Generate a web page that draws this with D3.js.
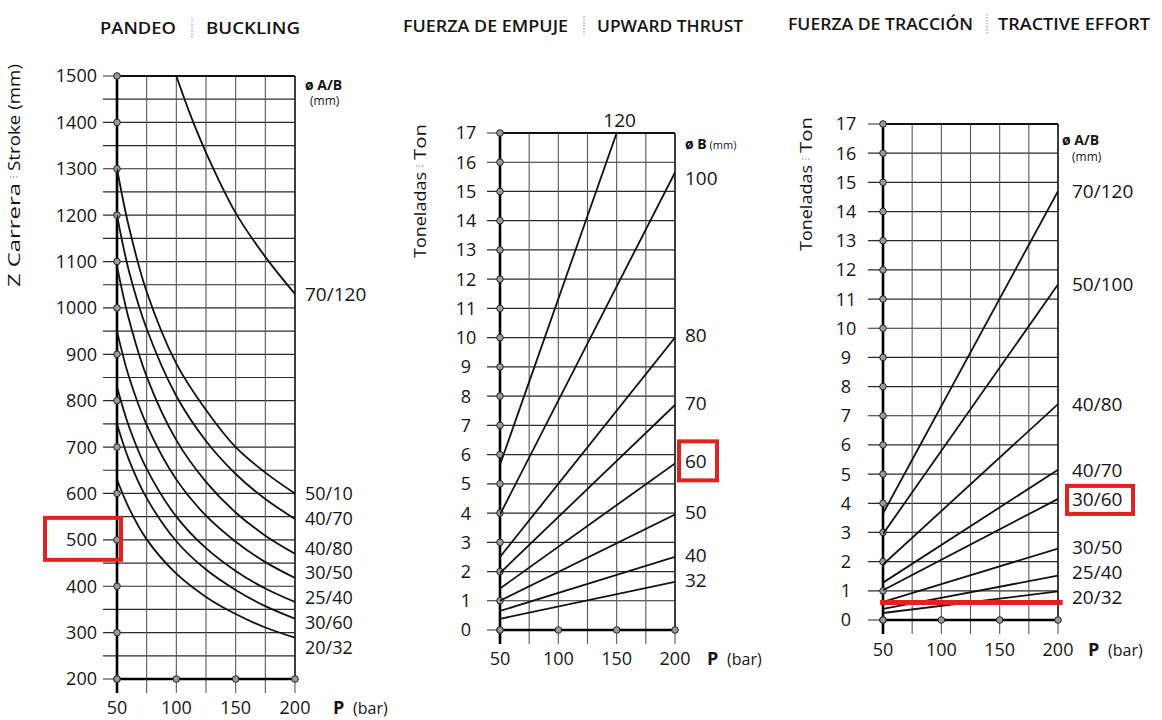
<!DOCTYPE html>
<html>
<head>
<meta charset="utf-8">
<script src="https://cdn.jsdelivr.net/npm/d3@7"></script>
<style>
  body { margin: 0; background: #fff; }
  svg text { font-family: "Open Sans", "Noto Sans", sans-serif; fill: #151515; }
</style>
</head>
<body>
<svg id="chart" width="1162" height="720"></svg>
<script>
// ---- shared pressure axis (bar) ----
const pressureTicks = [50, 100, 150, 200];
const pressureGrid = [50, 75, 100, 125, 150, 175, 200];

// ---- Buckling: admissible stroke (mm) against pressure ----
const strokeTicks = [200, 300, 400, 500, 600, 700, 800, 900, 1000, 1100, 1200, 1300, 1400, 1500];
const strokeP = [50, 60, 75, 100, 125, 150, 175, 200];
const stroke50_10 = [1300, 1175, 1035, 880, 780, 700, 645, 600];
const stroke40_70 = [1200, 1080, 955, 810, 713, 642, 588, 545];
const stroke40_80 = [1090, 976, 852, 715, 625, 559, 509, 470];
const stroke30_50 = [950, 852, 748, 630, 552, 496, 452, 418];
const stroke25_40 = [830, 745, 653, 550, 482, 433, 395, 366];
const stroke30_60 = [750, 673, 590, 497, 436, 392, 357, 330];
const stroke20_32 = [630, 569, 501, 427, 377, 340, 311, 289];
const stroke70_120P = [100, 112, 125, 150, 175, 200];
const stroke70_120 = [1500, 1415, 1335, 1205, 1110, 1030];
const strokeNames = ["50/10", "40/70", "40/80", "30/50", "25/40", "30/60", "20/32"];

// ---- Upward thrust (t) per bore ----
const tonTicks = [0, 1, 2, 3, 4, 5, 6, 7, 8, 9, 10, 11, 12, 13, 14, 15, 16, 17];
const thrustBores = ["120", "100", "80", "70", "60", "50", "40", "32"];
const thrustAt50 = [5.65, 3.95, 2.5, 1.95, 1.42, 1.0, 0.65, 0.38];
const thrustEndP = [150, 200, 200, 200, 200, 200, 200, 200];
const thrustEnd = [17, 15.65, 10.0, 7.7, 5.7, 3.95, 2.5, 1.65];

// ---- Tractive effort (t) per rod/bore ----
const tractiveRods = ["70/120", "50/100", "40/80", "40/70", "30/60", "30/50", "25/40", "20/32"];
const tractiveAt50 = [3.65, 2.95, 1.9, 1.28, 1.02, 0.62, 0.38, 0.24];
const tractiveAt200 = [14.7, 11.5, 7.4, 5.15, 4.15, 2.45, 1.52, 0.98];

// ---- highlighted items ----
const markedStroke = 500;
const markedBore = "60";
const markedRod = "30/60";
const markedTractive = 0.6;

const RED = "#e3211f";
const LABEL_SIZE = 18;
const LABEL_GAP = 25;
const svg = d3.select("#chart");

function titleText(xLeft, xSep, xRight, y, left, right, wLeft, wRight) {
  svg.append("text").attr("x", xLeft).attr("y", y)
    .attr("font-size", 17).attr("font-weight", 600)
    .attr("textLength", wLeft).attr("lengthAdjust", "spacingAndGlyphs").text(left);
  svg.append("line").attr("x1", xSep).attr("x2", xSep).attr("y1", y - 16).attr("y2", y + 4)
    .attr("stroke", "#888").attr("stroke-width", 1).attr("stroke-dasharray", "1.5,1.5");
  svg.append("text").attr("x", xRight).attr("y", y)
    .attr("font-size", 17).attr("font-weight", 600)
    .attr("textLength", wRight).attr("lengthAdjust", "spacingAndGlyphs").text(right);
}

function verticalTitle(cx, yStart, parts) {
  // parts: [text, length] drawn bottom to top with a dotted divider between them
  let yy = yStart;
  parts.forEach((p, i) => {
    if (i > 0) {
      svg.append("line").attr("x1", cx - 4).attr("x2", cx + 4).attr("y1", yy - 6).attr("y2", yy - 6)
        .attr("stroke", "#888").attr("stroke-dasharray", "1.5,1.5");
      yy -= 12;
    }
    svg.append("text")
      .attr("transform", `translate(${cx + 6},${yy}) rotate(-90)`)
      .attr("font-size", 17).attr("font-weight", 500)
      .attr("textLength", p[1]).attr("lengthAdjust", "spacingAndGlyphs")
      .text(p[0]);
    yy -= p[1];
  });
}

function panel(cfg) {
  const x = d3.scaleLinear().domain([50, 200]).range([cfg.x0, cfg.x1]);
  const y = d3.scaleLinear().domain(cfg.yDomain).range([cfg.yBottom, cfg.yTop]);
  const g = svg.append("g");

  // horizontal grid, extended left as tick dashes
  g.selectAll("line.h").data(cfg.hGrid).join("line")
    .attr("x1", cfg.x0 - cfg.tickLen).attr("x2", cfg.x1)
    .attr("y1", d => y(d)).attr("y2", d => y(d))
    .attr("stroke", "#2b2b2b").attr("stroke-width", 1.2);

  // vertical grid every 25 bar, running below the base line
  g.selectAll("line.v").data(pressureGrid).join("line")
    .attr("x1", d => x(d)).attr("x2", d => x(d))
    .attr("y1", y(cfg.yDomain[1])).attr("y2", cfg.yBottom + cfg.below)
    .attr("stroke", "#5a5a5a").attr("stroke-width", 1.1);

  // heavy axes
  g.append("line").attr("x1", x(50)).attr("x2", x(50))
    .attr("y1", y(cfg.yDomain[1])).attr("y2", cfg.yBottom + cfg.below)
    .attr("stroke", "#000").attr("stroke-width", 2.6);
  g.append("line").attr("x1", x(50)).attr("x2", x(200))
    .attr("y1", cfg.yBottom).attr("y2", cfg.yBottom)
    .attr("stroke", "#000").attr("stroke-width", 2.6);
  g.append("line").attr("x1", x(200)).attr("x2", x(200))
    .attr("y1", y(cfg.yDomain[1])).attr("y2", cfg.yBottom)
    .attr("stroke", "#222").attr("stroke-width", 1.6);
  g.append("line").attr("x1", x(50)).attr("x2", x(200))
    .attr("y1", y(cfg.yDomain[1])).attr("y2", y(cfg.yDomain[1]))
    .attr("stroke", "#111").attr("stroke-width", 1.8);

  // axis markers
  const dot = "#9a9a9a";
  g.selectAll("circle.y").data(cfg.yTicks).join("circle")
    .attr("cx", x(50)).attr("cy", d => y(d)).attr("r", 3.3)
    .attr("fill", dot).attr("stroke", "#222").attr("stroke-width", 1);
  g.selectAll("circle.x").data(pressureTicks).join("circle")
    .attr("cx", d => x(d)).attr("cy", cfg.yBottom).attr("r", 3.3)
    .attr("fill", dot).attr("stroke", "#222").attr("stroke-width", 1);

  // tick labels
  g.selectAll("text.y").data(cfg.yTicks).join("text")
    .attr("x", cfg.labelX).attr("y", d => y(d))
    .attr("dy", "0.36em").attr("text-anchor", cfg.labelAnchor)
    .attr("font-size", 18).attr("font-weight", 500).text(d => d);
  g.selectAll("text.x").data(pressureTicks).join("text")
    .attr("x", d => x(d)).attr("y", cfg.xLabelY)
    .attr("text-anchor", "middle").attr("font-size", 18).attr("font-weight", 500).text(d => d);
  g.append("text").attr("x", cfg.pX).attr("y", cfg.xLabelY)
    .attr("font-size", 18).attr("font-weight", 700).text("P");
  g.append("text").attr("x", cfg.pX + 20).attr("y", cfg.xLabelY)
    .attr("font-size", 16).text("(bar)");

  // clip for the curves
  const id = "clip" + cfg.x0;
  svg.append("clipPath").attr("id", id).append("rect")
    .attr("x", cfg.x0).attr("y", cfg.yTop).attr("width", cfg.x1 - cfg.x0).attr("height", cfg.yBottom - cfg.yTop);
  const curves = svg.append("g").attr("clip-path", `url(#${id})`);
  return { x, y, curves };
}

// push end labels apart symmetrically until none are closer than `gap`
function spread(items, gap) {
  items.sort((a, b) => a.y - b.y);
  for (let it = 0; it < 200; it++) {
    let moved = false;
    for (let i = 1; i < items.length; i++) {
      const d = items[i].y - items[i - 1].y;
      if (d < gap - 0.01) {
        const push = (gap - d) / 2;
        items[i - 1].y -= push;
        items[i].y += push;
        moved = true;
      }
    }
    if (!moved) break;
  }
  return items;
}

// ===== Panel 1: buckling =====
titleText(100, 192, 206, 34, "PANDEO", "BUCKLING", 76, 94);
verticalTitle(14, 287, [["Z  Carrera", 104], ["Stroke (mm)", 107]]);

const p1 = panel({
  x0: 117, x1: 295, yBottom: 679, yTop: 76, yDomain: [200, 1500],
  hGrid: d3.range(200, 1501, 50), yTicks: strokeTicks, tickLen: 14, below: 14,
  labelX: 97, labelAnchor: "end", xLabelY: 714, pX: 333
});
const strokeLine = d3.line().x(d => p1.x(d[0])).y(d => p1.y(d[1])).curve(d3.curveCatmullRom.alpha(0.5));
const strokeSeries = [stroke50_10, stroke40_70, stroke40_80, stroke30_50, stroke25_40, stroke30_60, stroke20_32];
strokeSeries.forEach(s => {
  p1.curves.append("path").datum(strokeP.map((p, i) => [p, s[i]]))
    .attr("d", strokeLine).attr("fill", "none").attr("stroke", "#111").attr("stroke-width", 1.8);
});
p1.curves.append("path").datum(stroke70_120P.map((p, i) => [p, stroke70_120[i]]))
  .attr("d", strokeLine).attr("fill", "none").attr("stroke", "#111").attr("stroke-width", 1.8);

svg.append("text").attr("x", 305).attr("y", 90).attr("font-size", 14).attr("font-weight", 700).text("ø A/B");
svg.append("text").attr("x", 310).attr("y", 105).attr("font-size", 12).text("(mm)");
svg.append("text").attr("x", 305).attr("y", p1.y(stroke70_120[stroke70_120.length - 1]))
  .attr("dy", "0.36em").attr("font-size", LABEL_SIZE + 1).text("70/120");
spread(strokeNames.map((n, i) => ({ n, y: p1.y(strokeSeries[i][strokeSeries[i].length - 1]) })), LABEL_GAP)
  .forEach(o => {
    svg.append("text").attr("x", 305).attr("y", o.y).attr("dy", "0.36em").attr("font-size", LABEL_SIZE).text(o.n);
  });
// highlighted stroke value on the axis
svg.append("rect").attr("x", 45).attr("y", p1.y(markedStroke) - 22).attr("width", 76).attr("height", 42)
  .attr("fill", "none").attr("stroke", RED).attr("stroke-width", 4);

// ===== Panel 2: upward thrust =====
titleText(403, 584, 597, 32, "FUERZA DE EMPUJE", "UPWARD THRUST", 165, 146);
verticalTitle(420, 258, [["Toneladas", 86], ["Ton", 36]]);

const p2 = panel({
  x0: 500, x1: 675, yBottom: 630, yTop: 133, yDomain: [0, 17],
  hGrid: tonTicks, yTicks: tonTicks, tickLen: 13, below: 14,
  labelX: 466, labelAnchor: "middle", xLabelY: 665, pX: 707
});
thrustBores.forEach((b, i) => {
  p2.curves.append("line")
    .attr("x1", p2.x(50)).attr("y1", p2.y(thrustAt50[i]))
    .attr("x2", p2.x(thrustEndP[i])).attr("y2", p2.y(thrustEnd[i]))
    .attr("stroke", "#111").attr("stroke-width", 1.8);
});
svg.append("text").attr("x", p2.x(thrustEndP[0]) + 3).attr("y", 127)
  .attr("text-anchor", "middle").attr("font-size", 19).text(thrustBores[0]);
svg.append("text").attr("x", 685).attr("y", 149).attr("font-size", 14).attr("font-weight", 700)
  .text("ø B").append("tspan").attr("font-size", 11).attr("font-weight", 400).text(" (mm)");
const thrustLabels = thrustBores.slice(1).map((b, k) => ({ n: b, y: p2.y(thrustEnd[k + 1]) }));
thrustLabels[0].y += 8;
thrustLabels.forEach(o => {
  svg.append("text").attr("x", 685).attr("y", o.y - 2).attr("dy", "0.36em").attr("font-size", 19).text(o.n);
  if (o.n === markedBore) {
    svg.append("rect").attr("x", 679).attr("y", o.y - 22).attr("width", 38).attr("height", 39)
      .attr("fill", "none").attr("stroke", RED).attr("stroke-width", 4);
  }
});

// ===== Panel 3: tractive effort =====
titleText(788, 987, 998, 30, "FUERZA DE TRACCIÓN", "TRACTIVE EFFORT", 185, 152);
verticalTitle(806, 251, [["Toneladas", 86], ["Ton", 36]]);

const p3 = panel({
  x0: 883, x1: 1058, yBottom: 620, yTop: 124, yDomain: [0, 17],
  hGrid: tonTicks, yTicks: tonTicks, tickLen: 15, below: 14,
  labelX: 846, labelAnchor: "middle", xLabelY: 656, pX: 1088
});
tractiveRods.forEach((r, i) => {
  p3.curves.append("line")
    .attr("x1", p3.x(50)).attr("y1", p3.y(tractiveAt50[i]))
    .attr("x2", p3.x(200)).attr("y2", p3.y(tractiveAt200[i]))
    .attr("stroke", "#111").attr("stroke-width", 1.8);
});
svg.append("text").attr("x", 1062).attr("y", 145).attr("font-size", 14).attr("font-weight", 700).text("ø A/B");
svg.append("text").attr("x", 1072).attr("y", 161).attr("font-size", 12).text("(mm)");
spread(tractiveRods.map((r, i) => ({ n: r, y: p3.y(tractiveAt200[i]) })), LABEL_GAP).forEach(o => {
  svg.append("text").attr("x", 1072).attr("y", o.y).attr("dy", "0.36em").attr("font-size", LABEL_SIZE + 1).text(o.n);
  if (o.n === markedRod) {
    svg.append("rect").attr("x", 1067).attr("y", o.y - 13).attr("width", 66).attr("height", 28)
      .attr("fill", "none").attr("stroke", RED).attr("stroke-width", 4);
  }
});
// highlighted tractive level
svg.append("line")
  .attr("x1", p3.x(47.5)).attr("x2", p3.x(204))
  .attr("y1", p3.y(markedTractive)).attr("y2", p3.y(markedTractive))
  .attr("stroke", RED).attr("stroke-width", 5);
</script>
</body>
</html>
